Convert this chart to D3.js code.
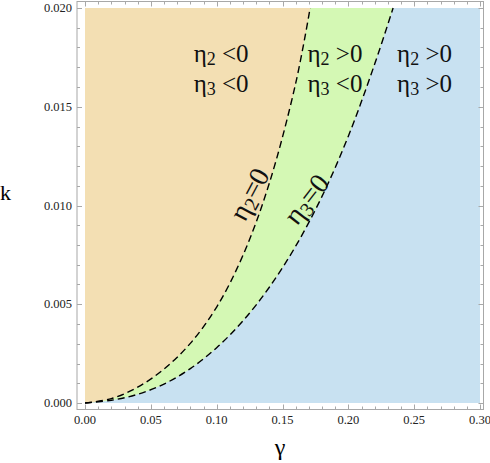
<!DOCTYPE html>
<html><head><meta charset="utf-8">
<script src="https://cdn.jsdelivr.net/npm/d3@7"></script>
<style>body{margin:0;background:#fff}svg{display:block}svg text{font-family:"Liberation Serif","Times New Roman",serif}</style>
</head><body><svg id="c" width="490" height="463"></svg>
<script>
// data
const eta2Gamma = [0, 0.02, 0.04, 0.06, 0.08, 0.10, 0.12, 0.14, 0.16, 0.171];
const eta2K     = [0, 0.00022, 0.00080, 0.00172, 0.00302, 0.00486, 0.00748, 0.01113, 0.01618, 0.0200];
const eta3Gamma = [0, 0.02, 0.04, 0.06, 0.08, 0.10, 0.12, 0.14, 0.16, 0.18, 0.20, 0.22, 0.234];
const eta3K     = [0, 0.00014, 0.00044, 0.00096, 0.00174, 0.00280, 0.00416, 0.00586, 0.00794, 0.01046, 0.01351, 0.01716, 0.0200];
const xTicks = [0, 0.05, 0.10, 0.15, 0.20, 0.25, 0.30];
const xTickLabels = ["0.00", "0.05", "0.10", "0.15", "0.20", "0.25", "0.30"];
const yTicks = [0, 0.005, 0.010, 0.015, 0.020];
const yTickLabels = ["0.000", "0.005", "0.010", "0.015", "0.020"];
const regionLabels = [
  {sub1: "2", op1: " <0", sub2: "3", op2: " <0", gx: 0.0825},
  {sub1: "2", op1: " >0", sub2: "3", op2: " <0", gx: 0.169},
  {sub1: "2", op1: " >0", sub2: "3", op2: " >0", gx: 0.237}
];

const svg = d3.select("#c");
const x = d3.scaleLinear().domain([0, 0.30]).range([85, 480]);
const y = d3.scaleLinear().domain([0, 0.020]).range([403, 8]);
const frame = {l: 77, r: 483.5, t: 1.5, b: 409.5};

const eta2 = eta2Gamma.map((g, i) => [g, eta2K[i]]);
const eta3 = eta3Gamma.map((g, i) => [g, eta3K[i]]);
const curve = d3.curveCatmullRom.alpha(0.5);

svg.append("rect").attr("x", x(0)).attr("y", y(0.02))
  .attr("width", x(0.30) - x(0)).attr("height", y(0) - y(0.02))
  .attr("fill", "#c8e1f1");

const area = d3.area().x(d => x(d[0])).y0(y(0.02)).y1(d => y(d[1])).curve(curve);
svg.append("path").datum(eta3).attr("d", area).attr("fill", "#d4f8b4");
svg.append("path").datum(eta2).attr("d", area).attr("fill", "#f3dfb3");

const line = d3.line().x(d => x(d[0])).y(d => y(d[1])).curve(curve);
[eta2, eta3].forEach(dd => {
  svg.append("path").datum(dd).attr("d", line).attr("fill", "none")
    .attr("stroke", "#000").attr("stroke-width", 1.4).attr("stroke-dasharray", "7,4");
});

// frame
const fg = svg.append("g").attr("stroke", "#a8a8a8").attr("stroke-width", 1).attr("fill", "none");
fg.append("rect").attr("x", frame.l).attr("y", frame.t).attr("width", frame.r - frame.l).attr("height", frame.b - frame.t);

const xMinor = d3.range(0, 0.3001, 0.01);
const yMinor = d3.range(0, 0.02001, 0.001);
xMinor.forEach((v, i) => {
  const len = (i % 5 === 0) ? 5 : 3;
  const px = Math.round(x(v)) + 0.5;
  fg.append("line").attr("x1", px).attr("x2", px).attr("y1", frame.b).attr("y2", frame.b - len);
  fg.append("line").attr("x1", px).attr("x2", px).attr("y1", frame.t).attr("y2", frame.t + len);
});
yMinor.forEach((v, i) => {
  const len = (i % 5 === 0) ? 5 : 3;
  const py = Math.round(y(v)) + 0.5;
  fg.append("line").attr("y1", py).attr("y2", py).attr("x1", frame.l).attr("x2", frame.l + len);
  fg.append("line").attr("y1", py).attr("y2", py).attr("x1", frame.r).attr("x2", frame.r - len);
});

svg.append("g").selectAll("text").data(xTicks).join("text")
  .attr("x", d => x(d)).attr("y", 424).attr("text-anchor", "middle")
  .attr("font-size", 12.5).attr("fill", "#222")
  .text((d, i) => xTickLabels[i]);
svg.append("g").selectAll("text").data(yTicks).join("text")
  .attr("x", 72).attr("y", d => y(d) + 4).attr("text-anchor", "end")
  .attr("font-size", 12.5).attr("fill", "#222")
  .text((d, i) => yTickLabels[i]);

// axis labels
svg.append("text").attr("x", 0).attr("y", 200).attr("font-size", 22).text("k");
svg.append("text").attr("x", 280).attr("y", 455).attr("text-anchor", "middle")
  .attr("font-size", 24).text("γ");

// region labels
regionLabels.forEach(r => {
  [[r.sub1, r.op1, 62], [r.sub2, r.op2, 92]].forEach(([s, op, by]) => {
    const t = svg.append("text").attr("x", x(r.gx)).attr("y", by)
      .attr("font-size", 25).attr("fill", "#111");
    t.append("tspan").text("η");
    t.append("tspan").attr("font-size", 18).attr("dy", 3).text(s);
    t.append("tspan").attr("dy", -3).text(op);
  });
});

// curve labels
function curveLabel(sub, cx, cy, ang) {
  const t = svg.append("text").attr("transform", `translate(${cx},${cy}) rotate(${ang})`)
    .attr("text-anchor", "middle").attr("dy", "0.35em")
    .attr("font-size", 28).attr("fill", "#111");
  t.append("tspan").text("η");
  t.append("tspan").attr("font-size", 20).attr("dy", 4).text(sub);
  t.append("tspan").attr("dy", -4).text("=0");
}
curveLabel("2", 249, 194, -62);
curveLabel("3", 306, 199, -52);
</script></body></html>
